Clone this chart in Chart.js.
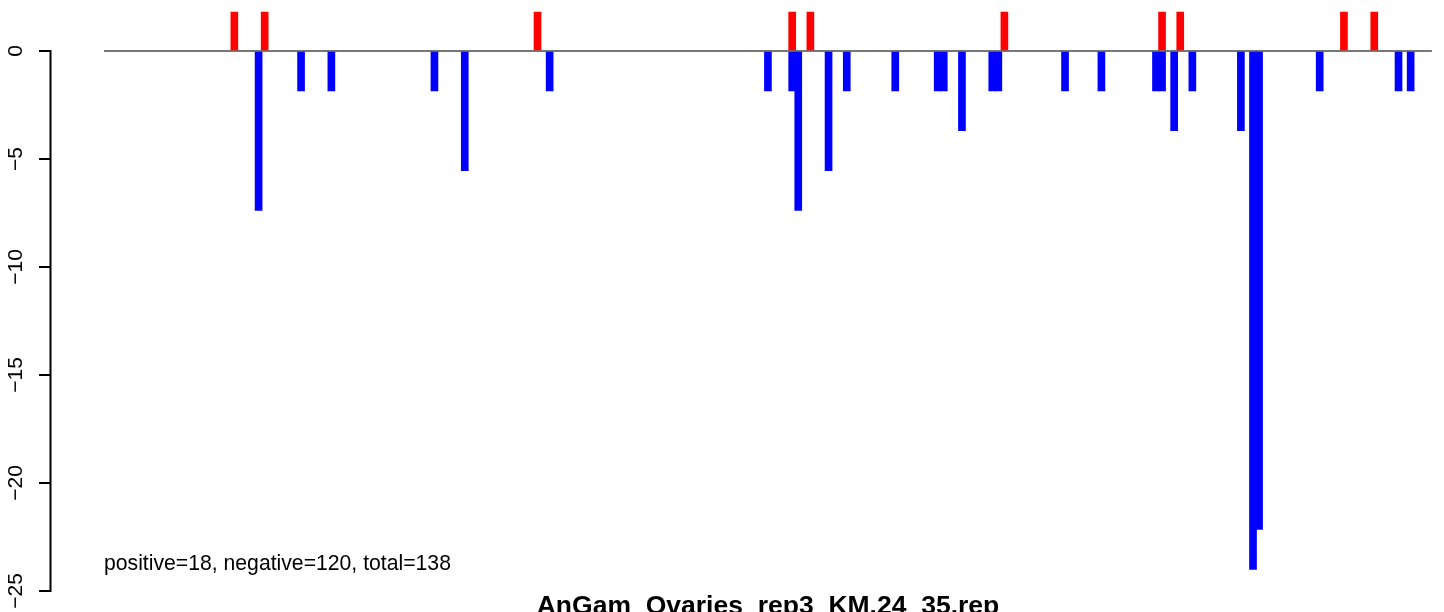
<!DOCTYPE html>
<html>
<head>
<meta charset="utf-8">
<script src="https://cdn.jsdelivr.net/npm/chart.js@4/dist/chart.umd.min.js"></script>
<style>
html,body{margin:0;padding:0;background:#fff;}
#wrap{width:1444px;height:612px;position:relative;overflow:hidden;}
canvas{display:block;}
</style>
</head>
<body>
<div id="wrap"><canvas id="c" width="1444" height="612"></canvas></div>
<script>
// ---- data ----
const slotCount = 219;                       // number of bar slots along the x axis
const posSlots  = [22, 27, 72, 114, 117, 149, 175, 178, 205, 210];
const posValues = [1.8, 1.8, 1.8, 1.8, 1.8, 1.8, 1.8, 1.8, 1.8, 1.8];
const negSlots  = [26, 33, 38, 55, 60, 74, 110, 114, 115, 120, 123, 131, 138, 139, 142,
                   147, 148, 159, 165, 174, 175, 177, 180, 188, 190, 191, 201, 214, 216];
const negValues = [-7.38, -1.85, -1.85, -1.85, -5.54, -1.85, -1.85, -1.85, -7.38, -5.54, -1.85, -1.85, -1.85, -1.85, -3.69,
                   -1.85, -1.85, -1.85, -1.85, -1.85, -1.85, -3.69, -1.85, -3.69, -24.0, -22.15, -1.85, -1.85, -1.85];
const yTickValues = [0, -5, -10, -15, -20, -25];
const titleText = 'AnGam_Ovaries_rep3_KM.24_35.rep';
const noteText  = 'positive=18, negative=120, total=138';

const FONT = '"Liberation Sans", Arial, Helvetica, sans-serif';

const decoPlugin = {
  id: 'deco',
  afterDraw(chart) {
    const ctx = chart.ctx;
    const ys = chart.scales.y;
    const xs = chart.scales.x;
    ctx.save();
    // y axis line (only over the tick range, R style)
    ctx.strokeStyle = '#000';
    ctx.lineWidth = 2;
    ctx.beginPath();
    const ax = chart.chartArea.left - 0.5;
    ctx.moveTo(ax, ys.getPixelForValue(yTickValues[0]) - 1);
    ctx.lineTo(ax, ys.getPixelForValue(yTickValues[yTickValues.length - 1]) + 1);
    ctx.stroke();
    // annotation text
    ctx.fillStyle = '#000';
    ctx.font = '21.2px ' + FONT;
    ctx.textAlign = 'left';
    ctx.textBaseline = 'alphabetic';
    ctx.fillText(noteText, xs.getPixelForValue(0), 569.5);
    // title
    ctx.font = 'bold 26.5px ' + FONT;
    ctx.textAlign = 'center';
    ctx.fillText(titleText, 768, 614);
    ctx.restore();
  }
};

const toPoints = (slots, vals) => slots.map((s, i) => ({ x: s - 0.5, y: vals[i] }));

new Chart(document.getElementById('c'), {
  type: 'bar',
  data: {
    datasets: [
      {
        type: 'line',
        data: [{ x: 0, y: 0 }, { x: slotCount, y: 0 }],
        borderColor: '#4a4a4a',
        borderWidth: 1.3,
        pointRadius: 0,
        order: 3
      },
      {
        data: toPoints(posSlots, posValues),
        backgroundColor: '#ff0000',
        borderWidth: 0,
        barThickness: 7,
        grouped: false,
        order: 1
      },
      {
        data: toPoints(negSlots, negValues),
        backgroundColor: '#0000ff',
        borderWidth: 0,
        barThickness: 7,
        grouped: false,
        order: 2
      }
    ]
  },
  options: {
    responsive: false,
    animation: false,
    devicePixelRatio: 1,
    layout: { padding: { top: 7.8, bottom: 10.2, left: 0, right: 0 } },
    plugins: { legend: { display: false }, tooltip: { enabled: false }, title: { display: false } },
    scales: {
      x: { type: 'linear', min: -8.74, max: 221, offset: false, display: false },
      y: {
        type: 'linear',
        min: -25.5,
        max: 2,
        afterBuildTicks: (s) => { s.ticks = yTickValues.map(v => ({ value: v })); },
        afterFit: (s) => { s.width = 51; s.paddingTop = 0; s.paddingBottom = 0; },
        border: { display: false },
        grid: { drawOnChartArea: false, drawTicks: true, tickLength: 12, color: '#000', lineWidth: 2 },
        ticks: {
          autoSkip: false,
          minRotation: 90,
          maxRotation: 90,
          crossAlign: 'center',
          padding: 4.5,
          color: '#000',
          font: { family: FONT, size: 21 },
          callback: (v) => String(v).replace('-', '\u2212')
        }
      }
    }
  },
  plugins: [decoPlugin]
});
</script>
</body>
</html>
